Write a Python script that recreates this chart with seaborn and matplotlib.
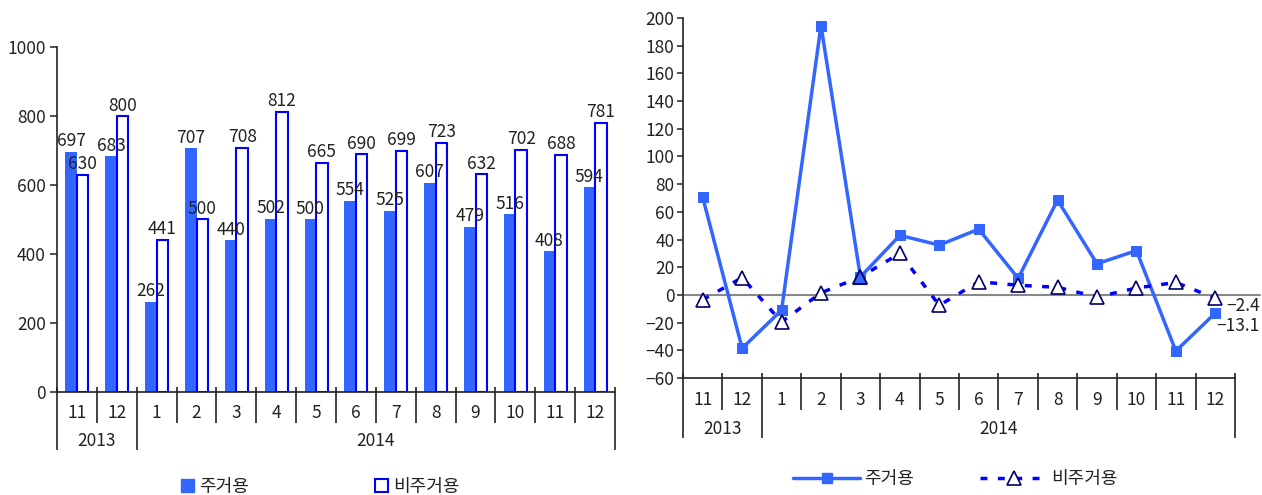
import numpy as np
import pandas as pd
import matplotlib
matplotlib.use('Agg')
import matplotlib.pyplot as plt
import matplotlib.transforms as mtransforms
from matplotlib.lines import Line2D
from matplotlib.patches import Patch
import seaborn as sns

# ---------------- data ----------------
months = ['11', '12', '1', '2', '3', '4', '5', '6', '7', '8', '9', '10', '11', '12']
years = ['2013', '2014']
year_spans = [(0, 2), (2, 14)]
series_names = ['주거용', '비주거용']
res_level = [697, 683, 262, 707, 440, 502, 500, 554, 525, 607, 479, 516, 408, 594]
nonres_level = [630, 800, 441, 500, 708, 812, 665, 690, 699, 723, 632, 702, 688, 781]
res_change = [70.5, -38.5, -11, 194.5, 13, 43, 36, 47.5, 12, 68.5, 22.5, 32, -40.5, -13.1]
nonres_change = [-3.5, 12.5, -19.5, 1.5, 13, 30, -7.5, 9.5, 7, 5.5, -1.5, 5, 9, -2.4]

# ---------------- style ----------------
sns.set_theme(style='white')
plt.rcParams['font.family'] = ['Noto Sans CJK KR', 'DejaVu Sans']
plt.rcParams['axes.unicode_minus'] = True
TXT = '#222222'
FS = 12.5
C_RES = '#3366FF'
C_NON = '#0000FF'

W, H = 1262, 495
fig = plt.figure(figsize=(W / 100, H / 100), dpi=100)


def ax_rect(l, r, t, b):
    return [l / W, 1 - b / H, (r - l) / W, (b - t) / H]


ax1 = fig.add_axes(ax_rect(57, 615, 47, 392))
ax2 = fig.add_axes(ax_rect(683, 1235, 18, 378))

pos = list(range(len(months)))


def style_axes(ax):
    for s in ['top', 'right']:
        ax.spines[s].set_visible(False)
    for s in ['left', 'bottom']:
        ax.spines[s].set_color(TXT)
        ax.spines[s].set_linewidth(1.2)
    ax.set_xlabel('')
    ax.set_ylabel('')
    ax.tick_params(axis='x', length=0, labelbottom=False)
    ax.tick_params(axis='y', direction='out', length=5, width=1.1, color=TXT,
                   labelsize=FS, labelcolor=TXT, pad=3, left=True)
    ax.set_xlim(-0.5, len(months) - 0.5)


def draw_cats(ax, axh, month_y, month_sep, year_y, year_sep, stub=5):
    trans = mtransforms.blended_transform_factory(ax.transData, ax.transAxes)
    bounds = set(b for s in year_spans for b in s)
    for k in range(len(months) + 1):
        xb = k - 0.5
        low = year_sep if k in bounds else month_sep
        ax.plot([xb, xb], [stub / axh, -low / axh], transform=trans, color=TXT,
                lw=1.2, clip_on=False, solid_capstyle='butt')
    for i, m in enumerate(months):
        ax.text(i, -month_y / axh, m, transform=trans, ha='center', va='center',
                fontsize=FS, color=TXT)
    for yr, (a, b) in zip(years, year_spans):
        ax.text((a + b - 1) / 2, -year_y / axh, yr, transform=trans, ha='center',
                va='center', fontsize=FS, color=TXT)


# ---------------- left: bar chart ----------------
df_bar = pd.DataFrame({
    'pos': pos * 2,
    'value': res_level + nonres_level,
    'series': [series_names[0]] * len(pos) + [series_names[1]] * len(pos),
})
sns.barplot(data=df_bar, x='pos', y='value', hue='series', hue_order=series_names,
            palette=[C_RES, 'white'], saturation=1, width=0.58, gap=0,
            legend=False, ax=ax1)
for p in ax1.containers[0]:
    p.set_edgecolor('none')
for p in ax1.containers[1]:
    p.set_edgecolor(C_NON)
    p.set_linewidth(1.5)
ax1.bar_label(ax1.containers[0], labels=[str(v) for v in res_level], padding=1,
              fontsize=FS, color=TXT)
ax1.bar_label(ax1.containers[1], labels=[str(v) for v in nonres_level], padding=1,
              fontsize=FS, color=TXT)
ax1.set_ylim(0, 1000)
ax1.set_yticks(range(0, 1001, 200))
style_axes(ax1)
draw_cats(ax1, 345, 21, 31, 49, 58)

fig.legend(handles=[Patch(facecolor=C_RES, edgecolor=C_RES),
                    Patch(facecolor='white', edgecolor=C_NON, linewidth=1.5)],
           labels=series_names, loc='center', bbox_to_anchor=(0.254, 0.016),
           ncol=2, frameon=False, handlelength=0.7, handleheight=0.7,
           handletextpad=0.3, columnspacing=7, fontsize=FS + 0.5,
           labelcolor=TXT)

# ---------------- right: line chart ----------------
ax2.axhline(0, color='#888888', lw=1.5, xmax=1.045, clip_on=False, zorder=1)
sns.lineplot(x=pos, y=res_change, ax=ax2, color=C_RES, lw=2.5, marker='s',
             markersize=7, markeredgecolor=C_RES, zorder=3)
sns.lineplot(x=pos, y=nonres_change, ax=ax2, color=C_NON, lw=2.5,
             linestyle=(0, (2, 3)), marker='^', markersize=10,
             markerfacecolor='white', markeredgecolor='#000066',
             markeredgewidth=1.2, zorder=4)
ax2.plot(pos[4], nonres_change[4], marker='^', markersize=10,
         markerfacecolor=C_RES, markeredgecolor='#000066', markeredgewidth=1.2,
         zorder=5)
ax2.set_ylim(-60, 200)
ax2.set_yticks(range(-60, 201, 20))
style_axes(ax2)
ax2.tick_params(axis='y', length=4, pad=2)
draw_cats(ax2, 360, 22, 32, 51, 60)

ax2.annotate(f'{nonres_change[-1]}'.replace('-', '\u2212'),
             xy=(pos[-1], nonres_change[-1]), xytext=(28, -8),
             textcoords='offset pixels', ha='center', va='center',
             fontsize=FS, color=TXT, annotation_clip=False)
ax2.annotate(f'{res_change[-1]}'.replace('-', '\u2212'),
             xy=(pos[-1], res_change[-1]), xytext=(23, -13),
             textcoords='offset pixels', ha='center', va='center',
             fontsize=FS, color=TXT, annotation_clip=False)

fig.legend(handles=[Line2D([], [], color=C_RES, lw=2.5, marker='s', markersize=7),
                    Line2D([], [], color=C_NON, lw=2.5, linestyle=(0, (2, 3)),
                           marker='^', markersize=10, markerfacecolor='white',
                           markeredgecolor='#000066', markeredgewidth=1.2)],
           labels=series_names, loc='center', bbox_to_anchor=(0.757, 0.032),
           ncol=2, frameon=False, handlelength=3.7, handletextpad=0.2,
           columnspacing=3.7, fontsize=FS + 0.5, labelcolor=TXT)

fig.savefig('out.png', dpi=100)
